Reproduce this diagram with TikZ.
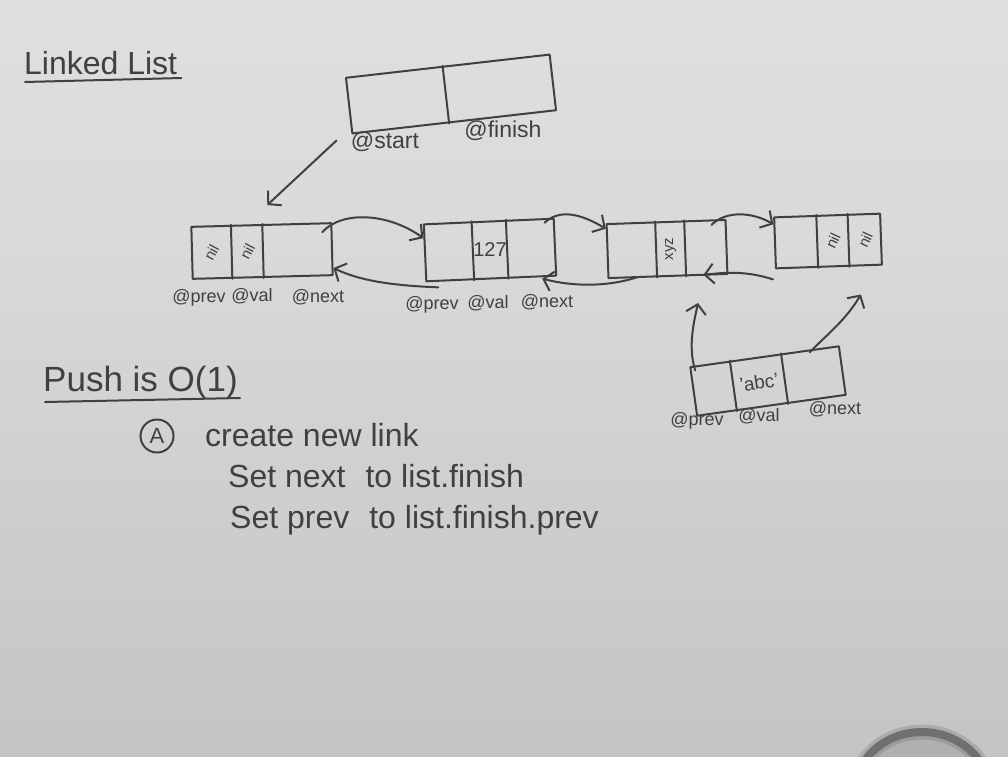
\documentclass[tikz,border=0pt]{standalone}
\usepackage{fontspec}
\setmainfont{Liberation Sans}
\usetikzlibrary{arrows.meta,calc}

\definecolor{ink}{HTML}{404040}
\definecolor{boardtop}{HTML}{E7E7E7}
\definecolor{boardmid}{HTML}{DADADA}
\definecolor{boardlow}{HTML}{C4C4C4}
\definecolor{boardbot}{HTML}{A6A6A6}
\definecolor{rimband}{HTML}{707070}
\definecolor{riminner}{HTML}{B0B0B0}

\pgfdeclareverticalshading{board}{100bp}{color(0bp)=(boardbot); color(25bp)=(boardlow); color(60bp)=(boardmid); color(100bp)=(boardtop)}

% vertical divider between two cells of a (possibly tilted) record box
\newcommand\celldiv[2]{\draw[inkline] ($(#1.north west)!#2!(#1.north east)$) -- ($(#1.south west)!#2!(#1.south east)$);}

\begin{document}
\begin{tikzpicture}[x=1pt,y=-1pt,
  inkline/.style={draw=ink, line width=2pt, line join=round, line cap=round},
  record/.style={inkline, rectangle, inner sep=0pt},
  lbl/.style={text=ink, inner sep=0pt, font=\fontsize{18}{18}\selectfont},
  val/.style={text=ink, inner sep=0pt, font=\fontsize{15}{15}\selectfont},
  note/.style={text=ink, inner sep=0pt, anchor=base west, font=\fontsize{32}{32}\selectfont},
  link/.style={inkline, -{Straight Barb[length=9pt,width=20pt]}}]

\useasboundingbox (0,0) rectangle (1008,756);
\shade[shading=board] (0,0) rectangle (1008,756);

% rim of an object resting on the board edge
\begin{scope}
  \clip (0,0) rectangle (1008,756);
  \fill[riminner] (922,794) ellipse [x radius=68, y radius=62];
  \draw[rimband, line width=15pt, opacity=0.3] (922,794) ellipse [x radius=68, y radius=62];
  \draw[rimband, line width=8pt] (922,794) ellipse [x radius=68, y radius=62];
\end{scope}

% title
\node[note] (title) at (24,74) {Linked List};
\draw[inkline] ([shift={(1,8)}]title.base west) -- ([shift={(4,4)}]title.base east);

% list header: start / finish
\node[record, minimum width=205pt, minimum height=56pt, rotate=6.5] (list) at (451,94) {};
\celldiv{list}{0.475}
\node[lbl, font=\fontsize{23}{23}\selectfont] (lstart) at (385,142) {@start};
\node[lbl, font=\fontsize{23}{23}\selectfont] (lfinish) at (503,131) {@finish};

% first link (start sentinel)
\node[record, minimum width=140pt, minimum height=52pt, rotate=1.5] (n1) at (262,251) {};
\celldiv{n1}{0.286}
\celldiv{n1}{0.507}
\node[val, rotate=62] (n1prev) at ($(n1.west)!0.143!(n1.east)$) {nil};
\node[val, rotate=62] (n1val) at ($(n1.west)!0.397!(n1.east)$) {nil};
\node[lbl] (n1lp) at (199,298) {@prev};
\node[lbl] (n1lv) at (252,296) {@val};
\node[lbl] (n1ln) at (318,297) {@next};

% second link
\node[record, minimum width=130pt, minimum height=57pt, rotate=2.5] (n2) at (490,250) {};
\celldiv{n2}{0.37}
\celldiv{n2}{0.63}
\node[val, font=\fontsize{20}{20}\selectfont] (n2val) at ($(n2.west)!0.5!(n2.east)$) {127};
\node[lbl] (n2lp) at (432,305) {@prev};
\node[lbl] (n2lv) at (488,303) {@val};
\node[lbl] (n2ln) at (547,302) {@next};

% third link
\node[record, minimum width=119pt, minimum height=54pt, rotate=2] (n3) at (667,249) {};
\celldiv{n3}{0.41}
\celldiv{n3}{0.65}
\node[val, rotate=90] (n3val) at ($(n3.west)!0.53!(n3.east)$) {xyz};

% last link (finish sentinel)
\node[record, minimum width=106pt, minimum height=51pt, rotate=2] (n4) at (828,241) {};
\celldiv{n4}{0.40}
\celldiv{n4}{0.69}
\node[val, rotate=65] (n4val) at ($(n4.west)!0.545!(n4.east)$) {nil};
\node[val, rotate=65] (n4next) at ($(n4.west)!0.845!(n4.east)$) {nil};

% link being pushed
\node[record, minimum width=150pt, minimum height=49pt, rotate=8] (nn) at (768,381) {};
\celldiv{nn}{0.27}
\celldiv{nn}{0.61}
\node[val, rotate=8, font=\fontsize{19}{19}\selectfont] (nnval) at ($(nn.west)!0.44!(nn.east)$) {'abc'};
\node[lbl] (nnlp) at (697,421) {@prev};
\node[lbl] (nnlv) at (759,416) {@val};
\node[lbl] (nnln) at (835,409) {@next};

% pointers
\draw[link] ([shift={(-15,6)}]list.south west) -- ([shift={(6,-19)}]n1.north);
\draw[link] ([shift={(-10,10)}]n1.north east) .. controls +(20,-22) and +(-35,-25) .. ($(n2.north west)!0.25!(n2.south west)$);
\draw[link] ([shift={(13,5)}]n2.south west) .. controls +(-50,-2) and +(25,12) .. ($(n1.north east)!0.85!(n1.south east)$);
\draw[link] ([shift={(-10,5)}]n2.north east) .. controls +(15,-14) and +(-25,-15) .. ($(n3.north west)!0.1!(n3.south west)$);
\draw[link] ([shift={(30,-2)}]n3.south west) .. controls +(-30,10) and +(30,8) .. ([shift={(-15,2)}]n2.south east);
\draw[link] ([shift={(-15,6)}]n3.north east) .. controls +(15,-15) and +(-20,-12) .. ($(n4.north west)!0.15!(n4.south west)$);
\draw[link] ([shift={(-2,10)}]n4.south west) .. controls +(-25,-8) and +(25,-3) .. ([shift={(-25,0)}]n3.south east);
\draw[link] ([shift={(6,4)}]nn.north west) .. controls +(-8,-25) and +(-3,15) .. ([shift={(30,26)}]n3.south);
\draw[link] ([shift={(-30,7)}]nn.north east) .. controls +(20,-20) and +(-15,25) .. ([shift={(32,27)}]n4.south);

% push notes
\node[note, font=\fontsize{35}{35}\selectfont] (push) at (43,391) {Push is O(1)};
\draw[inkline] ([shift={(2,11)}]push.base west) -- ([shift={(197,7)}]push.base west);
\node[circle, draw=ink, line width=2pt, minimum size=33pt, inner sep=0pt, text=ink, font=\fontsize{22}{22}\selectfont] (stepA) at (157,436) {A};
\node[note] (line1) at (205,446) {create new link};
\node[note] (line2) at (228,487) {Set next\hspace{20pt}to list.finish};
\node[note] (line3) at (230,528) {Set prev\hspace{20pt}to list.finish.prev};

\end{tikzpicture}
\end{document}
